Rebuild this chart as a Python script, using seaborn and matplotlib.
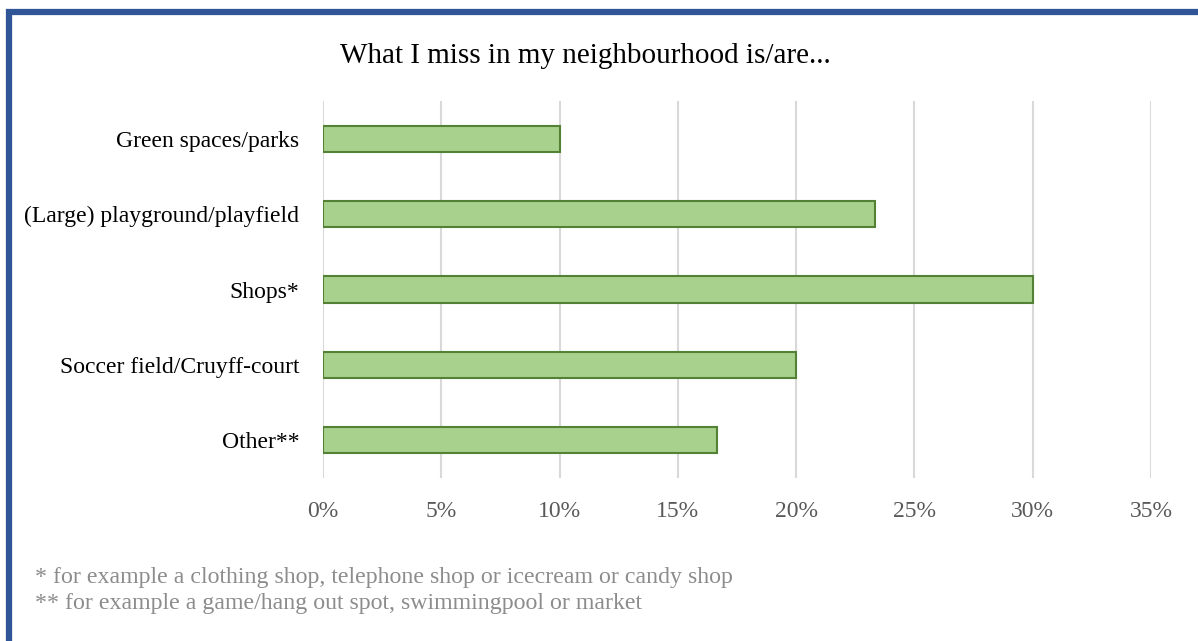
import matplotlib
matplotlib.use("Agg")
import matplotlib.pyplot as plt
import matplotlib.patches as mpatches
import numpy as np
import pandas as pd
import seaborn as sns
from matplotlib.ticker import PercentFormatter

categories = ["Green spaces/parks", "(Large) playground/playfield", "Shops*",
              "Soccer field/Cruyff-court", "Other**"]
values = [10.0, 23.33, 30.0, 20.0, 16.67]
xticks = [0, 5, 10, 15, 20, 25, 30, 35]
title = "What I miss in my neighbourhood is/are..."
notes = ["* for example a clothing shop, telephone shop or icecream or candy shop",
         "** for example a game/hang out spot, swimmingpool or market"]

df = pd.DataFrame({"category": categories, "value": values})

sns.set_theme(style="white")
plt.rcParams['font.family'] = ['Liberation Serif', 'DejaVu Serif']

W, H = 1198, 641
fig = plt.figure(figsize=(W / 100, H / 100), dpi=100)
ax = fig.add_axes([323 / W, 1 - 477.6 / H, (1151 - 323) / W, (477.6 - 101.4) / H])

sns.barplot(data=df, x="value", y="category", orient="h", ax=ax,
            color="#a9d18e", edgecolor="#548235", linewidth=1.5,
            width=0.35, saturation=1, zorder=3)

ax.set_xlim(0, 35)
ax.set_ylim(4.5, -0.5)
ax.set_xticks(xticks)
ax.xaxis.set_major_formatter(PercentFormatter(decimals=0))
ax.grid(axis="x", color="#d9d9d9", linewidth=1.5, zorder=0)
ax.grid(axis="y", visible=False)
for s in ax.spines.values():
    s.set_visible(False)
ax.set_xlabel("")
ax.set_ylabel("")
ax.tick_params(axis="x", labelsize=17, labelcolor="#595959", length=0, pad=17)
ax.tick_params(axis="y", labelsize=17, labelcolor="#000000", length=0, pad=17)

fig.text(585 / W, 1 - 56 / H, title, ha="center", va="center",
         fontsize=21, color="black")
fig.text(35 / W, 1 - 578 / H, notes[0], ha="left", va="center",
         fontsize=17.2, color="#8c8c8c")
fig.text(35 / W, 1 - 604 / H, notes[1], ha="left", va="center",
         fontsize=17.2, color="#8c8c8c")

# blue frame (top and left edges visible)
fig.add_artist(mpatches.Rectangle((9 / W, -0.1), 1.2, 1 - 12 / H + 0.1,
                                  transform=fig.transFigure, fill=False,
                                  edgecolor="#2f5597", linewidth=4.5,
                                  clip_on=False))

fig.savefig("out.png", dpi=100)
